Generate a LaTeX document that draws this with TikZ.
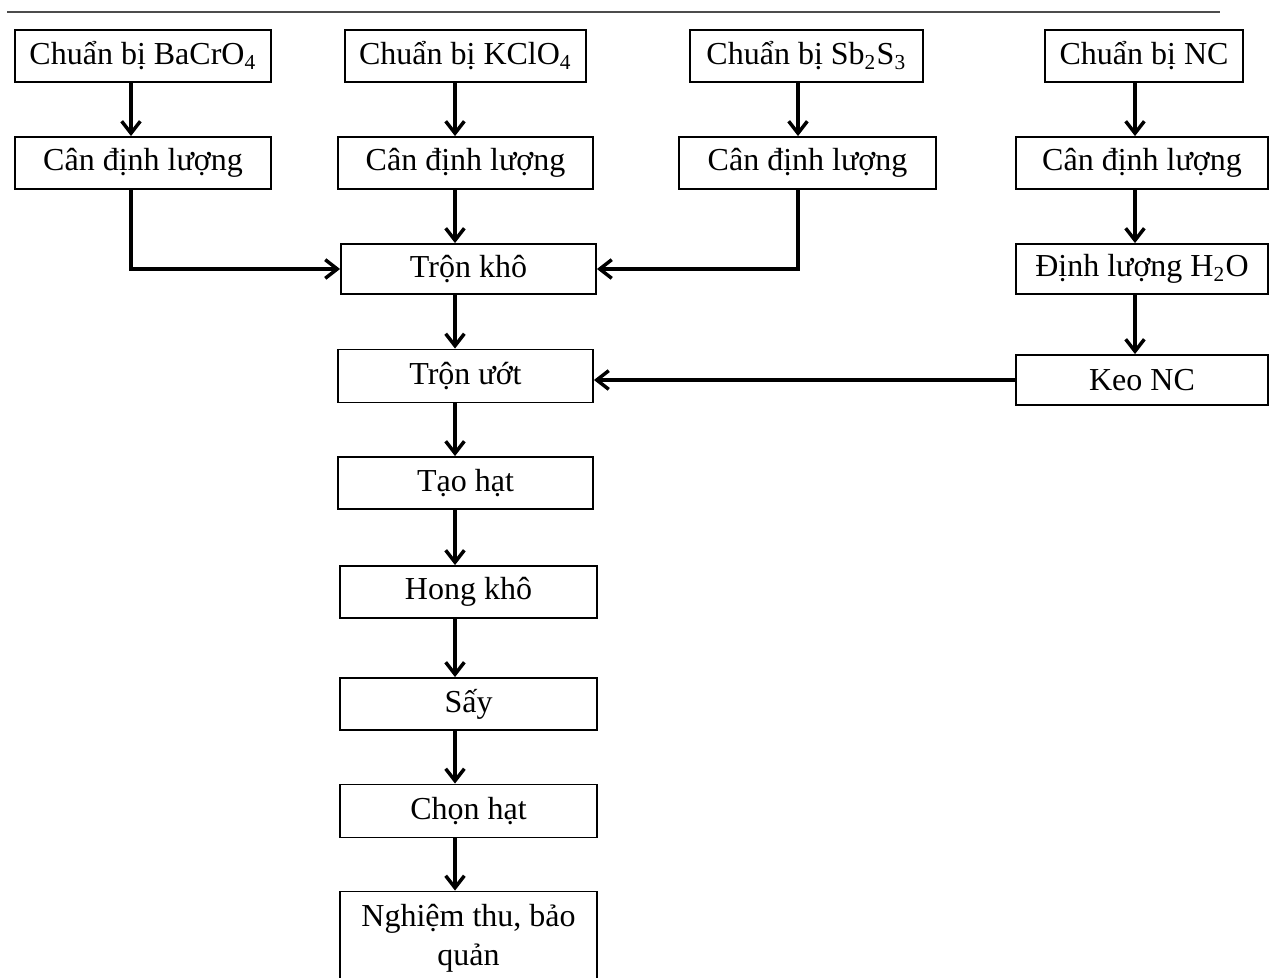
\documentclass[tikz,border=0pt]{standalone}
\usepackage{fontspec}
\setmainfont{Liberation Serif}
\usetikzlibrary{arrows.meta,positioning,calc}
\newcommand{\px}{0.375pt}
\tikzset{
  stage/.style={rectangle, draw=black, line width=0.7pt, align=center,
    minimum height=52*\px, inner sep=2pt, font=\fontsize{12}{14.6}\selectfont},
  flow/.style={-{Straight Barb[length=4.5pt,width=7pt]}, line width=1.3pt, draw=black},
}

\begin{document}
\begin{tikzpicture}[x=\px, y=-\px]
  \useasboundingbox (0,0) rectangle (1269,978);
  \draw[black!70, line width=0.6pt] (7,12) -- (1220,12);
  % arrow columns
  \coordinate (colBa) at (131,0);
  \coordinate (colK) at (455,0);
  \coordinate (colSb) at (798,0);
  \coordinate (colNC) at (1135,0);
  % preparation row
  \node[stage, minimum width=256*\px] (prepBa) at (143,56) {Chuẩn bị BaCrO\textsubscript{4}};
  \node[stage, minimum width=241*\px] (prepK) at (465.5,56) {Chuẩn bị KClO\textsubscript{4}};
  \node[stage, minimum width=233*\px] (prepSb) at (806.5,56) {Chuẩn bị Sb\textsubscript{2}S\textsubscript{3}};
  \node[stage, minimum width=198*\px] (prepNC) at (1144,56) {Chuẩn bị NC};
  % weighing row
  \node[stage, minimum width=256*\px] (canBa) at (143,163) {Cân định lượng};
  \node[stage, minimum width=255*\px] (canK) at (465.5,163) {Cân định lượng};
  \node[stage, minimum width=257*\px] (canSb) at (807.5,163) {Cân định lượng};
  \node[stage, minimum width=252*\px] (canNC) at (1142,163) {Cân định lượng};
  % NC branch
  \node[stage, minimum width=252*\px, minimum height=50*\px] (dinhluong) at (1142,269) {Định lượng H\textsubscript{2}O};
  \node[stage, minimum width=252*\px, minimum height=50*\px] (keo) at (1142,380) {Keo NC};
  % main chain
  \node[stage, minimum width=255*\px, minimum height=50*\px] (tronkho) at (468.5,269) {Trộn khô};
  \node[stage, minimum width=255*\px, minimum height=53*\px] (tronuot) at (465.5,376) {Trộn ướt};
  \node[stage, minimum width=255*\px] (taohat) at (465.5,483) {Tạo hạt};
  \node[stage, minimum width=257*\px] (hongkho) at (468.5,592) {Hong khô};
  \node[stage, minimum width=257*\px] (say) at (468.5,704) {Sấy};
  \node[stage, minimum width=257*\px, minimum height=53*\px] (chonhat) at (468.5,811) {Chọn hạt};
  \node[stage, minimum width=257*\px, minimum height=93*\px] (nghiemthu) at (468.5,938) {Nghiệm thu, bảo\\quản};
  % connectors
  \draw[flow] (prepBa.south -| colBa) -- (canBa.north -| colBa);
  \draw[flow] (prepK.south -| colK) -- (canK.north -| colK);
  \draw[flow] (prepSb.south -| colSb) -- (canSb.north -| colSb);
  \draw[flow] (prepNC.south -| colNC) -- (canNC.north -| colNC);
  \draw[flow] (canNC.south -| colNC) -- (dinhluong.north -| colNC);
  \draw[flow] (dinhluong.south -| colNC) -- (keo.north -| colNC);
  \draw[flow] (canBa.south -| colBa) |- (tronkho.west);
  \draw[flow] (canSb.south -| colSb) |- (tronkho.east);
  \draw[flow] (keo.west) -- (keo.west -| tronuot.east);
  \foreach \a/\b in {canK/tronkho, tronkho/tronuot, tronuot/taohat, taohat/hongkho,
      hongkho/say, say/chonhat, chonhat/nghiemthu}
    \draw[flow] (\a.south -| colK) -- (\b.north -| colK);
\end{tikzpicture}
\end{document}
